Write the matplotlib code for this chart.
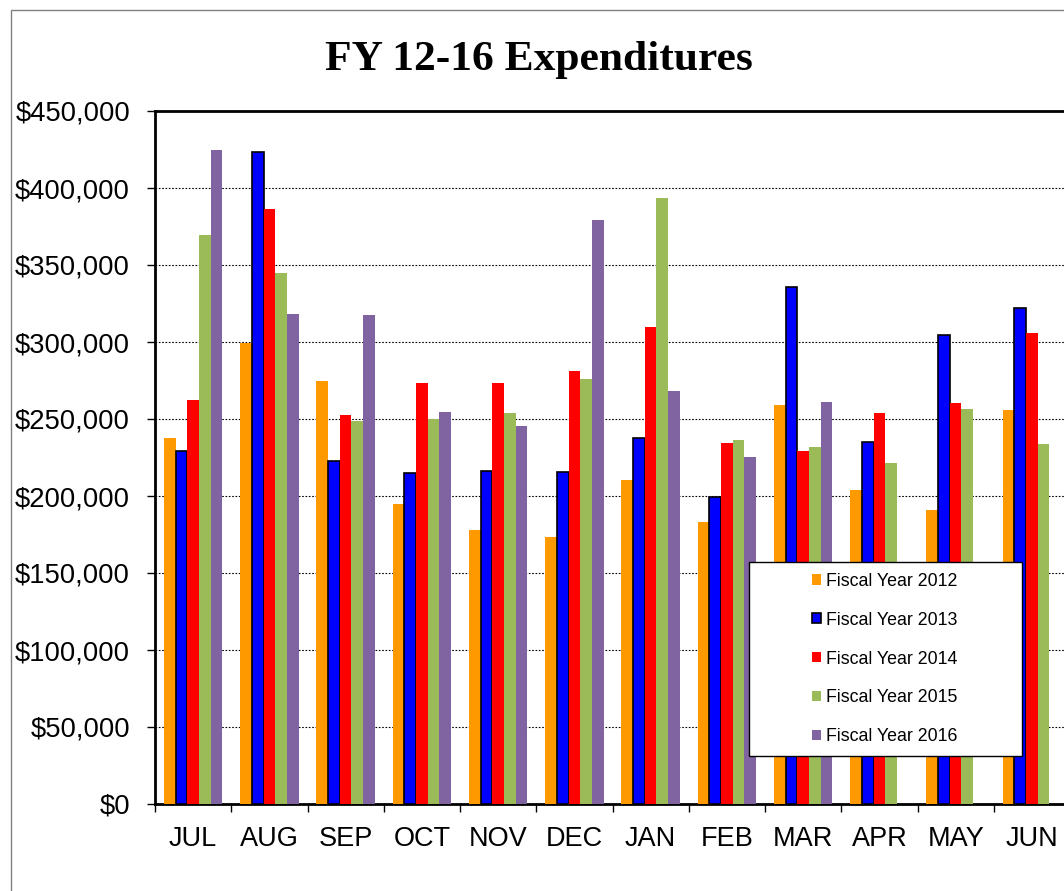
import matplotlib
matplotlib.use("Agg")
import matplotlib.pyplot as plt
import numpy as np
from matplotlib.patches import Rectangle, Patch
from matplotlib.ticker import FixedLocator, StrMethodFormatter

plt.rcParams['font.family'] = ['Liberation Sans', 'DejaVu Sans']

months = ["JUL", "AUG", "SEP", "OCT", "NOV", "DEC", "JAN", "FEB", "MAR", "APR", "MAY", "JUN"]
series_names = ["Fiscal Year 2012", "Fiscal Year 2013", "Fiscal Year 2014",
                "Fiscal Year 2015", "Fiscal Year 2016"]
fy2012 = [237400, 299400, 274900, 194900, 177600, 173700, 210700, 183400, 258900, 203600, 191200, 255800]
fy2013 = [228900, 423300, 222600, 214800, 216100, 215400, 237800, 199600, 335500, 234900, 304800, 321900]
fy2014 = [262500, 386300, 252800, 273600, 273600, 281200, 309600, 234600, 228900, 254100, 260600, 305900]
fy2015 = [369200, 345100, 249000, 250000, 253900, 276200, 393200, 236400, 232000, 221600, 256700, 233800]
fy2016 = [424600, 318500, 317800, 254500, 245200, 378900, 268200, 225400, 261200, 0, 0, 0]
y_ticks = [0, 50000, 100000, 150000, 200000, 250000, 300000, 350000, 400000, 450000]

series = [fy2012, fy2013, fy2014, fy2015, fy2016]
colors = ["#FF9900", "#0000FF", "#FF0000", "#9BBB59", "#8064A2"]
edges = [None, "black", None, None, None]

W, H = 1064, 891
fig = plt.figure(figsize=(W / 100, H / 100), dpi=100)

# outer chart border (cropped on right/bottom)
fig.patches.append(Rectangle((10.5 / W, -0.1), 1.2, 1 - 9.7 / H + 0.1,
                             transform=fig.transFigure, fill=False,
                             edgecolor="#808080", linewidth=1.0))

ax_left, ax_right_px = 155, 1070
ax_bottom_px, ax_top_px = 804, 111
ax = fig.add_axes([ax_left / W, (H - ax_bottom_px) / H,
                   (ax_right_px - ax_left) / W, (ax_bottom_px - ax_top_px) / H])

x = np.arange(len(months))
bw = 1 / 6.5
for i, (vals, col, ec) in enumerate(zip(series, colors, edges)):
    off = (i - 2) * bw
    if ec:
        ax.bar(x + off, vals, width=bw, color=col, edgecolor=ec, linewidth=1.2,
               zorder=3, label=series_names[i])
    else:
        ax.bar(x + off, vals, width=bw, color=col, linewidth=0,
               zorder=3, label=series_names[i])

ax.set_xlim(-0.5, len(months) - 0.5)
ax.set_ylim(0, 450000)
ax.set_yticks(y_ticks)
ax.yaxis.set_major_formatter(StrMethodFormatter("${x:,.0f}"))
ax.yaxis.grid(True, color="black", linestyle=(0, (1.5, 1.5)), linewidth=0.8, zorder=0)
ax.set_axisbelow(True)

ax.xaxis.set_major_locator(FixedLocator(np.arange(len(months) + 1) - 0.5))
ax.xaxis.set_major_formatter(plt.NullFormatter())
ax.xaxis.set_minor_locator(FixedLocator(x))
ax.set_xticklabels(months, minor=True)
ax.tick_params(axis="x", which="major", direction="out", length=6, width=1, color="black")
ax.tick_params(axis="x", which="minor", length=0, pad=16, labelsize=19.5)
ax.tick_params(axis="y", direction="out", length=6, width=1, pad=12, labelsize=19.7)

for s in ax.spines.values():
    s.set_linewidth(2)
    s.set_color("black")

# legend box
lx0, lx1 = (749 - ax_left) / (ax_right_px - ax_left), (1022 - ax_left) / (ax_right_px - ax_left)
ly0, ly1 = (ax_bottom_px - 756) / (ax_bottom_px - ax_top_px), (ax_bottom_px - 562) / (ax_bottom_px - ax_top_px)
ax.add_patch(Rectangle((lx0, ly0), lx1 - lx0, ly1 - ly0, transform=ax.transAxes,
                       facecolor="white", edgecolor="black", linewidth=1.0, zorder=5))
handles = [Patch(facecolor=c, edgecolor=(e if e else c), linewidth=(1.2 if e else 0))
           for c, e in zip(colors, edges)]
leg = ax.legend(handles, series_names, loc="center",
                bbox_to_anchor=((lx0 + lx1) / 2 - 0.001, (ly0 + ly1) / 2),
                frameon=False, fontsize=12.8, handlelength=0.5, handleheight=0.5,
                handletextpad=0.3, labelspacing=1.23, borderpad=0)
leg.set_zorder(6)

fig.text(539 / W, 1 - 60 / H, "FY 12-16 Expenditures", ha="center", va="center",
         fontsize=31.3, fontweight="bold", family=["Liberation Serif", "DejaVu Serif"])

fig.savefig("out.png", dpi=100)
